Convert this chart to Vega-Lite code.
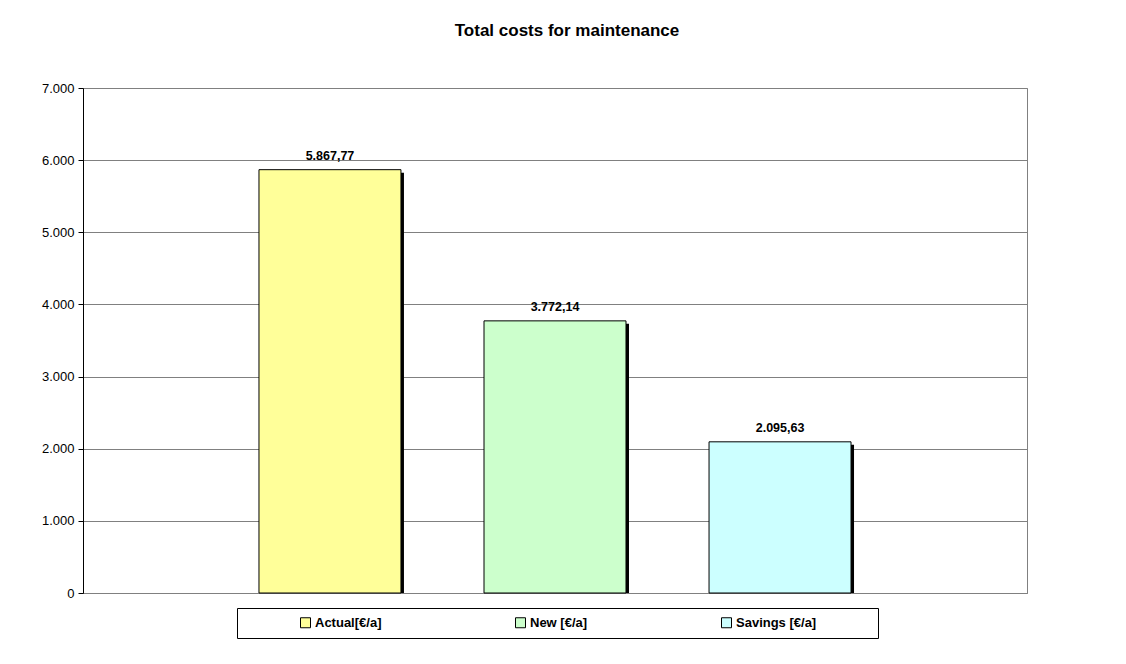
{
  "$schema": "https://vega.github.io/schema/vega-lite/v6.json",
  "width": 944,
  "height": 505,
  "padding": {"left": 41, "top": 22, "right": 10, "bottom": 10},
  "background": "white",
  "title": {
    "text": "Total costs for maintenance",
    "font": "Liberation Sans",
    "fontSize": 17,
    "fontWeight": "bold",
    "color": "#000000",
    "anchor": "middle",
    "dx": 12,
    "offset": 42
  },
  "config": {
    "locale": {
      "number": {
        "decimal": ",",
        "thousands": ".",
        "grouping": [3],
        "currency": ["", " €"]
      }
    },
    "view": {"stroke": "#808080", "strokeWidth": 1},
    "font": "Liberation Sans"
  },
  "data": {
    "values": [
      {"series": "Actual[€/a]", "value": 5867.77},
      {"series": "New [€/a]", "value": 3772.14},
      {"series": "Savings [€/a]", "value": 2095.63}
    ]
  },
  "encoding": {
    "x": {
      "field": "series",
      "type": "nominal",
      "sort": null,
      "scale": {"paddingInner": 0.369, "paddingOuter": 0.782},
      "axis": {"labels": false, "ticks": false, "title": null, "domain": true, "domainColor": "#808080", "grid": false}
    },
    "y": {
      "field": "value",
      "type": "quantitative",
      "scale": {"domain": [0, 7000], "nice": false},
      "axis": {
        "values": [0, 1000, 2000, 3000, 4000, 5000, 6000, 7000],
        "format": ",d",
        "title": null,
        "domainColor": "#000000",
        "tickColor": "#000000",
        "tickSize": 5,
        "labelPadding": 4,
        "labelFont": "Liberation Sans",
        "labelFontSize": 13,
        "labelColor": "#000000",
        "grid": true,
        "gridColor": "#808080",
        "gridOpacity": 1
      }
    }
  },
  "layer": [
    {
      "mark": {"type": "bar", "color": "#000000", "xOffset": 3, "yOffset": 3, "clip": true}
    },
    {
      "mark": {"type": "bar", "stroke": "#000000", "strokeWidth": 1},
      "encoding": {
        "color": {
          "field": "series",
          "type": "nominal",
          "scale": {
            "domain": ["Actual[€/a]", "New [€/a]", "Savings [€/a]"],
            "range": ["#FFFF99", "#CCFFCC", "#CCFFFF"]
          },
          "legend": {
            "title": " ",
            "titleOrient": "left",
            "titlePadding": 54,
            "orient": "none",
            "legendX": 154,
            "legendY": 520,
            "direction": "horizontal",
            "columns": 3,
            "columnPadding": 131,
            "padding": 8,
            "strokeColor": "#000000",
            "symbolType": "square",
            "symbolSize": 100,
            "symbolStrokeColor": "#000000",
            "symbolStrokeWidth": 1,
            "labelFont": "Liberation Sans",
            "labelFontSize": 13,
            "labelFontWeight": "bold",
            "labelColor": "#000000",
            "labelOffset": 3,
            "encode": {
              "symbols": {
                "update": {
                  "shape": {"signal": "datum.value == 'Savings [€/a]' ? 'M28.3,0M-1,-1H1V1H-1Z' : 'square'"}
                }
              }
            }
          }
        }
      }
    },
    {
      "mark": {"type": "text", "baseline": "alphabetic", "dy": -10, "font": "Liberation Sans", "fontSize": 12.5, "fontWeight": "bold", "color": "#000000"},
      "encoding": {
        "text": {"field": "value", "type": "quantitative", "format": ",.2f"}
      }
    }
  ]
}
